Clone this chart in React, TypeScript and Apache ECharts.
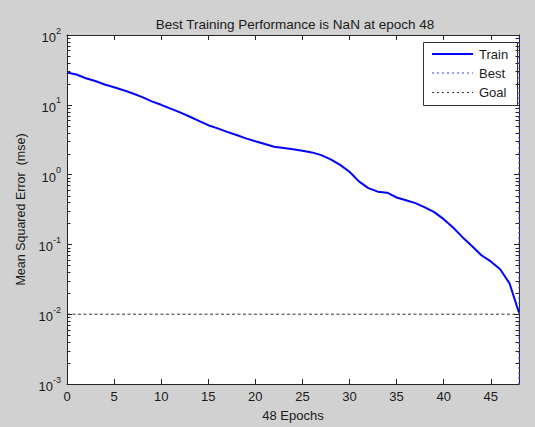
import React, { useEffect, useRef } from "react";
import * as echarts from "echarts";

const epochs = [
  0, 1, 2, 3, 4, 5, 6, 7, 8, 9, 10, 11, 12, 13, 14, 15, 16, 17, 18, 19, 20, 21, 22, 23, 24,
  25, 26, 27, 28, 29, 30, 31, 32, 33, 34, 35, 36, 37, 38, 39, 40, 41, 42, 43, 44, 45, 46, 47, 48,
];
const trainMse = [
  29, 27.2, 24, 21.9, 19.5, 17.8, 16.2, 14.5, 12.9, 11.2, 10.0, 8.8, 7.8, 6.8, 5.9, 5.1, 4.6,
  4.1, 3.7, 3.3, 3.0, 2.75, 2.5, 2.4, 2.3, 2.2, 2.08, 1.9, 1.65, 1.38, 1.1, 0.8, 0.64, 0.57,
  0.55, 0.47, 0.43, 0.39, 0.34, 0.29, 0.23, 0.175, 0.127, 0.095, 0.07, 0.057, 0.044, 0.0275,
  0.0105,
];
const bestEpoch = 48;
const goalMse = 0.01;
const xMin = 0;
const xMax = 48;
const xInterval = 5;
const yMin = 0.001;
const yMax = 100;
const yMinorTicks = [
  0.002, 0.003, 0.004, 0.005, 0.006, 0.007, 0.008, 0.009,
  0.02, 0.03, 0.04, 0.05, 0.06, 0.07, 0.08, 0.09,
  0.2, 0.3, 0.4, 0.5, 0.6, 0.7, 0.8, 0.9,
  2, 3, 4, 5, 6, 7, 8, 9,
  20, 30, 40, 50, 60, 70, 80, 90,
];
const titleText = "Best Training Performance is NaN at epoch 48";
const xName = "48 Epochs";
const yName = "Mean Squared Error  (mse)";
const legendNames = ["Train", "Best", "Goal"];

export default function App() {
  const ref = useRef<HTMLDivElement>(null);

  useEffect(() => {
    document.body.style.margin = "0";
    const chart = echarts.init(ref.current!, null, { renderer: "svg" });
    const font = "'Liberation Sans', Arial, Helvetica, sans-serif";
    const axisColor = "#262626";
    const textColor = "#1a1a1a";
    const grid = {
      left: 67,
      right: 16,
      top: 35,
      height: 354,
      show: true,
      backgroundColor: "#ffffff",
      borderWidth: 0,
    };

    const yAxisBase = {
      type: "log" as const,
      logBase: 10,
      min: yMin,
      max: yMax,
      splitNumber: 5,
      splitLine: { show: false },
    };
    const xAxisBase = {
      type: "value" as const,
      min: xMin,
      max: xMax,
      interval: xInterval,
      splitLine: { show: false },
    };
    const tick = { show: true, inside: true, length: 5, lineStyle: { color: axisColor, width: 1 } };
    const line = { show: true, onZero: false, lineStyle: { color: axisColor, width: 1 } };

    const lx = 423;
    const ly = 42;
    const rowY = [54, 73, 92];
    const minorLen = 3.5;

    chart.setOption({
      animation: false,
      backgroundColor: "transparent",
      title: {
        text: titleText,
        left: 290,
        top: 12,
        textAlign: "center",
        textStyle: { fontSize: 13.5, fontWeight: "normal", color: textColor, fontFamily: font },
      },
      grid,
      xAxis: [
        {
          ...xAxisBase,
          position: "bottom",
          name: xName,
          nameLocation: "middle",
          nameGap: 25,
          nameTextStyle: { fontSize: 13, color: textColor, fontFamily: font },
          axisLine: line,
          axisTick: tick,
          axisLabel: {
            showMaxLabel: false,
            margin: 6,
            fontSize: 13,
            color: textColor,
            fontFamily: font,
          },
          z: 10,
        },
        {
          ...xAxisBase,
          position: "top",
          axisLine: line,
          axisTick: tick,
          axisLabel: { show: false },
          z: 10,
        },
      ],
      yAxis: [
        {
          ...yAxisBase,
          position: "left",
          name: yName,
          nameLocation: "middle",
          nameGap: 35,
          nameRotate: 90,
          nameTextStyle: { fontSize: 12.5, color: textColor, fontFamily: font },
          axisLine: line,
          axisTick: tick,
          axisLabel: {
            margin: 6,
            color: textColor,
            fontFamily: font,
            formatter: (v: number) => "{b|10}{s|" + Math.round(Math.log10(v)) + "}",
            rich: {
              b: { fontSize: 13, color: textColor, fontFamily: font, lineHeight: 18, verticalAlign: "bottom" },
              s: { fontSize: 9, color: textColor, fontFamily: font, lineHeight: 18, verticalAlign: "top" },
            },
          },
          z: 10,
        },
        {
          ...yAxisBase,
          position: "right",
          axisLine: line,
          axisTick: tick,
          axisLabel: { show: false },
          z: 10,
        },
      ],
      series: [
        {
          name: "minorTicks",
          type: "custom",
          xAxisIndex: 0,
          yAxisIndex: 0,
          silent: true,
          clip: false,
          z: 10,
          data: yMinorTicks.map((v) => [xMin, v]),
          renderItem: (_params: any, api: any) => {
            const v = api.value(1);
            const pL = api.coord([xMin, v]);
            const pR = api.coord([xMax, v]);
            const y = Math.round(pL[1]) + 0.5;
            return {
              type: "group",
              children: [
                {
                  type: "line",
                  shape: { x1: pL[0], y1: y, x2: pL[0] + minorLen, y2: y },
                  style: { stroke: axisColor, lineWidth: 1 },
                },
                {
                  type: "line",
                  shape: { x1: pR[0] - minorLen, y1: y, x2: pR[0], y2: y },
                  style: { stroke: axisColor, lineWidth: 1 },
                },
              ],
            };
          },
        },
        {
          name: legendNames[0],
          type: "line",
          xAxisIndex: 0,
          yAxisIndex: 0,
          data: epochs.map((e, i) => [e, trainMse[i]]),
          symbol: "none",
          showSymbol: false,
          clip: false,
          lineStyle: { color: "#0000ff", width: 2 },
          z: 5,
        },
        {
          name: legendNames[1],
          type: "line",
          xAxisIndex: 0,
          yAxisIndex: 0,
          data: [
            [bestEpoch, yMin],
            [bestEpoch, yMax],
          ],
          symbol: "none",
          clip: false,
          lineStyle: { color: "#3a3aff", width: 1, type: [2, 3] },
          z: 11,
        },
        {
          name: legendNames[2],
          type: "line",
          xAxisIndex: 0,
          yAxisIndex: 0,
          data: [
            [xMin, goalMse],
            [xMax, goalMse],
          ],
          symbol: "none",
          lineStyle: { color: "#333333", width: 1, type: [3, 2.5] },
          z: 3,
        },
      ],
      graphic: [
        {
          type: "group",
          z: 100,
          children: [
            {
              type: "rect",
              shape: { x: lx + 0.5, y: ly + 0.5, width: 94, height: 63 },
              style: { fill: "#ffffff", stroke: "#333333", lineWidth: 1 },
            },
            {
              type: "line",
              shape: { x1: lx + 9, y1: rowY[0], x2: lx + 50, y2: rowY[0] },
              style: { stroke: "#0000ff", lineWidth: 2 },
            },
            {
              type: "line",
              shape: { x1: lx + 9, y1: rowY[1], x2: lx + 50, y2: rowY[1] },
              style: { stroke: "#3a3aff", lineWidth: 1, lineDash: [2, 3] },
            },
            {
              type: "line",
              shape: { x1: lx + 9, y1: rowY[2] + 0.5, x2: lx + 50, y2: rowY[2] + 0.5 },
              style: { stroke: "#333333", lineWidth: 1, lineDash: [2, 3] },
            },
            ...legendNames.map((n, i) => ({
              type: "text",
              x: lx + 56,
              y: rowY[i],
              style: {
                text: n,
                fill: textColor,
                font: "13px " + font,
                verticalAlign: "middle",
                align: "left",
              },
            })),
          ],
        },
      ],
    });

    return () => chart.dispose();
  }, []);

  return (
    <div
      ref={ref}
      style={{
        width: 535,
        height: 427,
        position: "fixed",
        left: 0,
        top: 0,
        background: "#d1d1d1",
      }}
    />
  );
}
